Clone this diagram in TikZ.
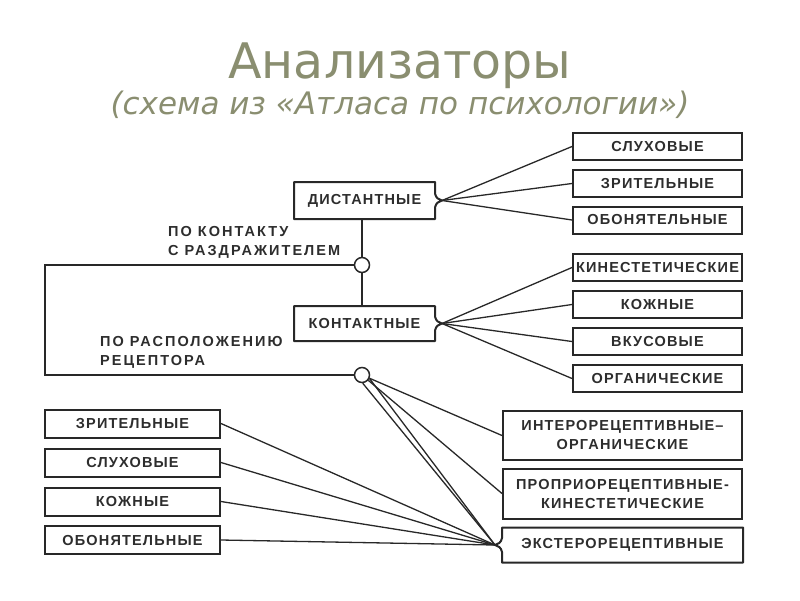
\documentclass[tikz,border=0pt]{standalone}
\usepackage{fontspec}
\setmainfont{DejaVu Sans}
\newfontfamily\boxfont[LetterSpace=8]{Liberation Sans}
\newfontfamily\lblfont[LetterSpace=14]{Liberation Sans}
\usetikzlibrary{calc}
\definecolor{titlecol}{RGB}{138,142,112}
\definecolor{ink}{RGB}{40,40,40}
\definecolor{txt}{RGB}{45,45,45}
\tikzset{
  box/.style={draw=ink, line width=2pt, rectangle, inner sep=0pt,
    font=\boxfont\bfseries\fontsize{14.5}{19}\selectfont, text=txt,
    minimum width=169pt, minimum height=27pt, align=center},
  nbox/.style={box, draw=none},
  conn/.style={draw=ink, line width=1.3pt},
  outline/.style={draw=ink, line width=2pt, line join=round},
  joint/.style={circle, draw=ink, line width=1.5pt, minimum size=15pt, inner sep=0pt, fill=white},
  lbl/.style={font=\lblfont\bfseries\fontsize{14.5}{19.5}\selectfont, text=txt, align=left, inner sep=0pt}
}
\begin{document}
\begin{tikzpicture}[x=1pt,y=-1pt]
\useasboundingbox[fill=white] (0,0) rectangle (800,600);
% titles
\node[anchor=base, text=titlecol, font=\fontsize{49}{55}\selectfont] (title) at (400,78) {Анализаторы};
\node[anchor=base, text=titlecol, font=\fontsize{31}{34}\selectfont\itshape] (sub) at (400,114) {(схема из «Атласа по психологии»)};

% central boxes
\node[nbox, minimum width=139pt, minimum height=35pt] (dist) at (364.5,200.5) {ДИСТАНТНЫЕ};
\node[nbox, minimum width=139pt, minimum height=33pt] (cont) at (364.5,323.5) {КОНТАКТНЫЕ};
\draw[outline] (dist.north west) -- (dist.north east) -- ($(dist.east)+(0,-7)$)
  .. controls ($(dist.east)+(1,-2)$) and ($(dist.east)+(4,-1)$) .. ($(dist.east)+(7,0)$)
  .. controls ($(dist.east)+(4,1)$) and ($(dist.east)+(1,2)$) .. ($(dist.east)+(0,7)$)
  -- (dist.south east) -- (dist.south west) -- cycle;
\draw[outline] (cont.north west) -- (cont.north east) -- ($(cont.east)+(0,-7)$)
  .. controls ($(cont.east)+(1,-2)$) and ($(cont.east)+(4,-1)$) .. ($(cont.east)+(7,0)$)
  .. controls ($(cont.east)+(4,1)$) and ($(cont.east)+(1,2)$) .. ($(cont.east)+(0,7)$)
  -- (cont.south east) -- (cont.south west) -- cycle;
\coordinate (dtip) at ($(dist.east)+(7,0)$);
\coordinate (ctip) at ($(cont.east)+(7,0)$);

% right upper boxes
\node[box] (sl1) at (657.5,146.5) {СЛУХОВЫЕ};
\node[box] (zr1) at (657.5,183.5) {ЗРИТЕЛЬНЫЕ};
\node[box] (ob1) at (657.5,220) {ОБОНЯТЕЛЬНЫЕ};
\node[box] (kin) at (657.5,267.5) {КИНЕСТЕТИЧЕСКИЕ};
\node[box] (kz1) at (657.5,304.5) {КОЖНЫЕ};
\node[box] (vk) at (657.5,341.5) {ВКУСОВЫЕ};
\node[box] (org) at (657.5,378.5) {ОРГАНИЧЕСКИЕ};

% left lower boxes
\node[box, minimum width=175pt, minimum height=28pt] (zr2) at (132.5,423.5) {ЗРИТЕЛЬНЫЕ};
\node[box, minimum width=175pt, minimum height=28pt] (sl2) at (132.5,462.5) {СЛУХОВЫЕ};
\node[box, minimum width=175pt, minimum height=28pt] (kz2) at (132.5,501.5) {КОЖНЫЕ};
\node[box, minimum width=175pt, minimum height=28pt] (ob2) at (132.5,540) {ОБОНЯТЕЛЬНЫЕ};

% right lower boxes
\node[box, minimum width=239pt, minimum height=49pt] (inter) at (622.5,435.5) {ИНТЕРОРЕЦЕПТИВНЫЕ–\\ОРГАНИЧЕСКИЕ};
\node[box, minimum width=239pt, minimum height=50pt] (propr) at (622.5,493.5) {ПРОПРИОРЕЦЕПТИВНЫЕ-\\КИНЕСТЕТИЧЕСКИЕ};
\node[nbox, minimum width=239pt, minimum height=33pt] (ext) at (622.5,545) {ЭКСТЕРОРЕЦЕПТИВНЫЕ};
\draw[outline] (ext.north east) -- (ext.north west) -- ($(ext.west)+(0,-7)$)
  .. controls ($(ext.west)+(-1,-2)$) and ($(ext.west)+(-4,-1)$) .. ($(ext.west)+(-7,0)$)
  .. controls ($(ext.west)+(-4,1)$) and ($(ext.west)+(-1,2)$) .. ($(ext.west)+(0,7)$)
  -- (ext.south west) -- (ext.south east) -- cycle;
\coordinate (etip) at ($(ext.west)+(-7,0)$);

% joints
\node[joint] (c1) at (362,265) {};
\node[joint] (c2) at (362,375) {};
\coordinate (lt) at (45,265);
\coordinate (lb) at (45,375);

% labels
\node[lbl, anchor=north west] (l1) at (168,226) {ПО КОНТАКТУ\\С РАЗДРАЖИТЕЛЕМ};
\node[lbl, anchor=north west] (l2) at (100,336) {ПО РАСПОЛОЖЕНИЮ\\РЕЦЕПТОРА};

% connectors
\draw[conn] (c1.west) -- (lt) -- (lb) -- (c2.west);
\draw[conn] (dist.south -| c1) -- (c1.north);
\draw[conn] (c1.south) -- (cont.north -| c1);
\foreach \t in {sl1,zr1,ob1} \draw[conn] (dtip) -- (\t.west);
\foreach \t in {kin,kz1,vk,org} \draw[conn] (ctip) -- (\t.west);
\foreach \t in {zr2,sl2,kz2,ob2} \draw[conn] (\t.east) -- (etip);
\draw[conn] (c2) -- (inter.west);
\draw[conn] (c2) -- (propr.west);
\draw[conn] (c2.-25) -- (etip);
\draw[conn] (c2.-85) -- (etip);
\end{tikzpicture}
\end{document}
